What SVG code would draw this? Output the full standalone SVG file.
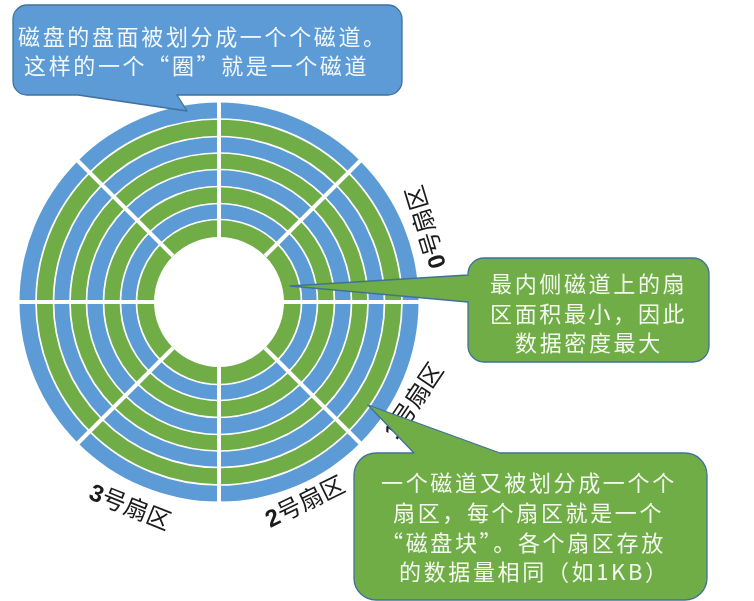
<svg xmlns="http://www.w3.org/2000/svg" width="754" height="601" viewBox="0 0 754 601">
<defs>
<filter id="soft" x="0" y="0" width="754" height="601" filterUnits="userSpaceOnUse"><feGaussianBlur stdDeviation="0.5"/></filter>
<style>
.blue{fill:#5B9BD5}
.green{fill:#70AD47}
.ring{stroke:#fff;stroke-width:1.7}
.spoke{stroke:#fff;stroke-width:4;fill:none}
.co{stroke-width:1.3;stroke-linejoin:round}
.cb{fill:#5B9BD5;stroke:#41719C}
.cg{fill:#70AD47;stroke:#41719C}
.t{font-family:"Noto Sans CJK SC","Liberation Sans",sans-serif;font-size:22px;letter-spacing:2.65px;fill:#fff;fill-opacity:.92}
.l{font-family:"Noto Sans CJK SC","Liberation Sans",sans-serif;font-size:24px;fill:#1a1a1a;text-anchor:middle}
.d{font-family:"Liberation Sans",sans-serif;font-weight:bold}
</style>
</defs>
<rect width="754" height="601" fill="#fff"/>
<g filter="url(#soft)">
<g id="disk">
<circle class="blue" cx="219" cy="302" r="199.500"/>
<circle class="green ring" cx="219" cy="302" r="183"/>
<circle class="blue ring" cx="219" cy="302" r="165.5"/>
<circle class="green ring" cx="219" cy="302" r="149"/>
<circle class="blue ring" cx="219" cy="302" r="132.5"/>
<circle class="green ring" cx="219" cy="302" r="115.5"/>
<circle class="blue ring" cx="219" cy="302" r="98.5"/>
<circle class="green ring" cx="219" cy="302" r="82.5"/>
<circle cx="219" cy="302" r="65" fill="#fff"/>
</g>
<g id="connectors">
<path class="spoke" d="M219,102V237M219,367V503M19,302H154M284,302H420M77.500,160.500L173,256M265,348L360.500,443.500M360.500,160.500L265,256M173,348L77.500,443.500"/>
</g>
<g id="sector-labels">
<text id="sector-0" class="l" transform="translate(426,227) rotate(-107)" y="8"><tspan class="d">0</tspan>号扇区</text>
<text id="sector-1" class="l" transform="translate(414,401) rotate(-56)" y="8"><tspan class="d">1</tspan>号扇区</text>
<text id="sector-2" class="l" transform="translate(305,502) rotate(-26)" y="8"><tspan class="d">2</tspan>号扇区</text>
<text id="sector-3" class="l" transform="translate(130,507) rotate(22)" y="8"><tspan class="d">3</tspan>号扇区</text>
</g>
<g id="callout-track">
<path class="co cb" d="M27,5H388A14,14 0 0 1 402,19V81A14,14 0 0 1 388,95H177L187,111L78,95H27A14,14 0 0 1 13,81V19A14,14 0 0 1 27,5Z"/>
<text class="t" x="18" y="45">磁盘的盘面被划分成一个个磁道。</text>
<text class="t" x="24" y="74">这样的一个“圈”就是一个磁道</text>
</g>
<g id="callout-density">
<path class="co cg" d="M484,258H693A16,16 0 0 1 709,274V346A16,16 0 0 1 693,362H484A16,16 0 0 1 468,346V302L290,286L468,275V274A16,16 0 0 1 484,258Z"/>
<text class="t" x="490" y="292">最内侧磁道上的扇</text>
<text class="t" x="490" y="322">区面积最小，因此</text>
<text class="t" x="515" y="351">数据密度最大</text>
</g>
<g id="callout-sector">
<path class="co cg" d="M376,453H414L368,405L500,453H685A22,22 0 0 1 707,475V578A22,22 0 0 1 685,600H376A22,22 0 0 1 354,578V475A22,22 0 0 1 376,453Z"/>
<text class="t" x="381" y="491">一个磁道又被划分成一个个</text>
<text class="t" x="393" y="521">扇区，每个扇区就是一个</text>
<text class="t" x="381" y="551">“磁盘块”。各个扇区存放</text>
<text class="t" x="399" y="580">的数据量相同（如1KB）</text>
</g>
</g>
</svg>
